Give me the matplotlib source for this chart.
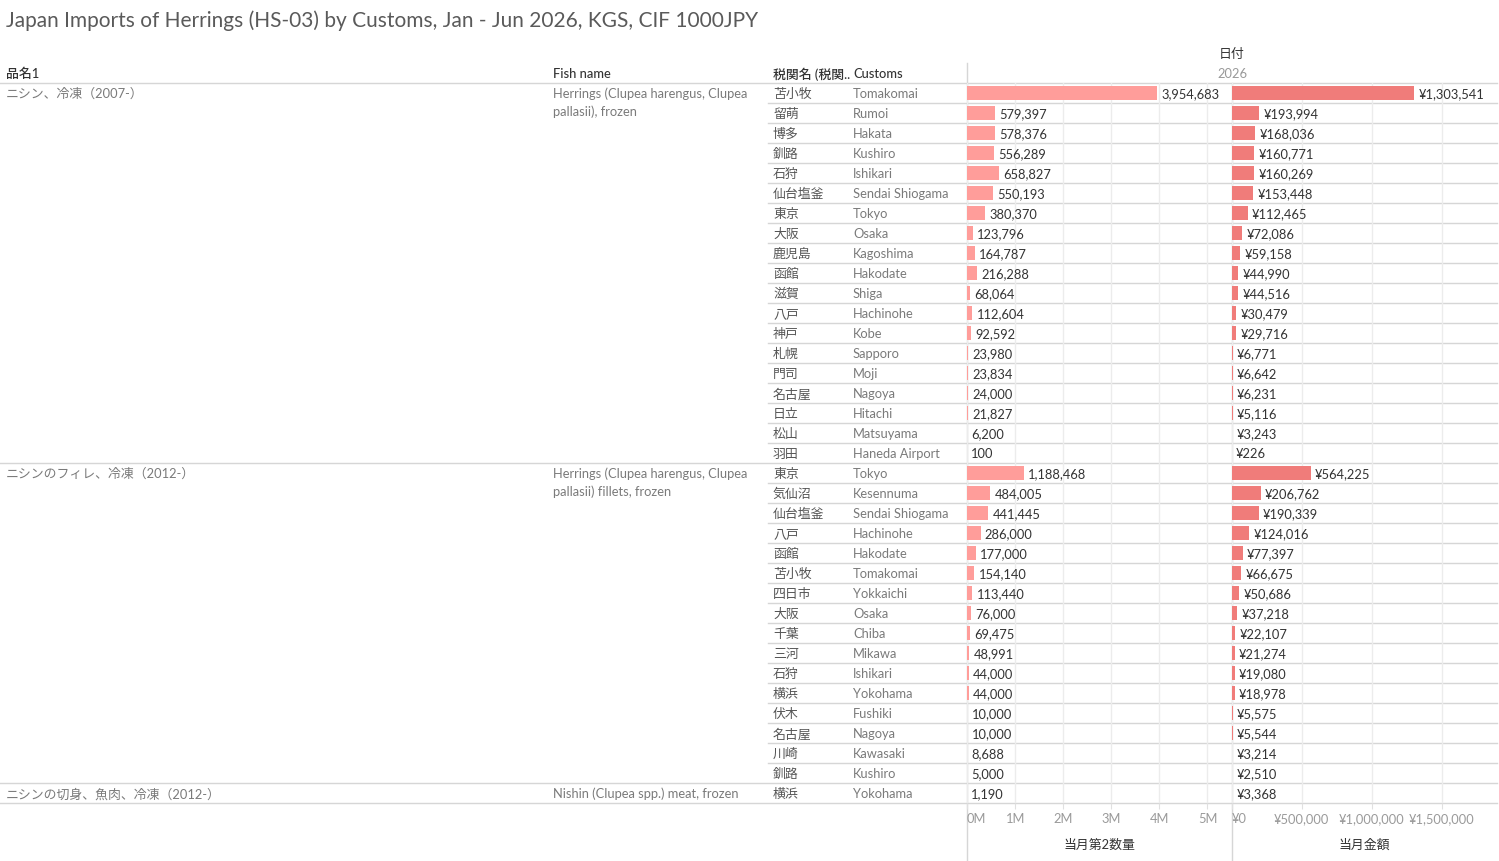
import matplotlib.pyplot as plt

plt.rcParams['font.family'] = ['Lato', 'Noto Sans CJK JP', 'DejaVu Sans']

W, H = 1499, 861

# --- data ---
products = ['ニシン、冷凍（2007-）', 'ニシンのフィレ、冷凍（2012-）', 'ニシンの切身、魚肉、冷凍（2012-）']
fish_names = ['Herrings (Clupea harengus, Clupea\npallasii), frozen',
              'Herrings (Clupea harengus, Clupea\npallasii) fillets, frozen',
              'Nishin (Clupea spp.) meat, frozen']

customs_jp_1 = ['苫小牧', '留萌', '博多', '釧路', '石狩', '仙台塩釜', '東京', '大阪', '鹿児島', '函館',
                '滋賀', '八戸', '神戸', '札幌', '門司', '名古屋', '日立', '松山', '羽田']
customs_en_1 = ['Tomakomai', 'Rumoi', 'Hakata', 'Kushiro', 'Ishikari', 'Sendai Shiogama', 'Tokyo', 'Osaka',
                'Kagoshima', 'Hakodate', 'Shiga', 'Hachinohe', 'Kobe', 'Sapporo', 'Moji', 'Nagoya', 'Hitachi',
                'Matsuyama', 'Haneda Airport']
qty_1 = [3954683, 579397, 578376, 556289, 658827, 550193, 380370, 123796, 164787, 216288,
         68064, 112604, 92592, 23980, 23834, 24000, 21827, 6200, 100]
amount_1 = [1303541, 193994, 168036, 160771, 160269, 153448, 112465, 72086, 59158, 44990,
            44516, 30479, 29716, 6771, 6642, 6231, 5116, 3243, 226]

customs_jp_2 = ['東京', '気仙沼', '仙台塩釜', '八戸', '函館', '苫小牧', '四日市', '大阪', '千葉', '三河',
                '石狩', '横浜', '伏木', '名古屋', '川崎', '釧路']
customs_en_2 = ['Tokyo', 'Kesennuma', 'Sendai Shiogama', 'Hachinohe', 'Hakodate', 'Tomakomai', 'Yokkaichi',
                'Osaka', 'Chiba', 'Mikawa', 'Ishikari', 'Yokohama', 'Fushiki', 'Nagoya', 'Kawasaki', 'Kushiro']
qty_2 = [1188468, 484005, 441445, 286000, 177000, 154140, 113440, 76000, 69475, 48991,
         44000, 44000, 10000, 10000, 8688, 5000]
amount_2 = [564225, 206762, 190339, 124016, 77397, 66675, 50686, 37218, 22107, 21274,
            19080, 18978, 5575, 5544, 3214, 2510]

customs_jp_3 = ['横浜']
customs_en_3 = ['Yokohama']
qty_3 = [1190]
amount_3 = [3368]

qty_ticks = [0, 1e6, 2e6, 3e6, 4e6, 5e6]
qty_tick_labels = ['0M', '1M', '2M', '3M', '4M', '5M']
amt_ticks = [0, 5e5, 1e6, 1.5e6]
amt_tick_labels = ['¥0', '¥500,000', '¥1,000,000', '¥1,500,000']

groups = [(customs_jp_1, customs_en_1, qty_1, amount_1),
          (customs_jp_2, customs_en_2, qty_2, amount_2),
          (customs_jp_3, customs_en_3, qty_3, amount_3)]

jp = sum([g[0] for g in groups], [])
en = sum([g[1] for g in groups], [])
qty = sum([g[2] for g in groups], [])
amt = sum([g[3] for g in groups], [])
n = len(qty)

# --- layout (pixels) ---
TOP = 83
ROW = 20
BOTTOM = TOP + ROW * n
X_L, X_M, X_R = 967, 1232, 1497
LINE = '#d6d6d6'
DARK = '#333333'
GRAY_JP = '#555555'
GRAY = '#7a7a7a'
FS = 9.3
DY = 1  # small nudge so text sits like the original

fig = plt.figure(figsize=(W / 100, H / 100), dpi=100)
bg = fig.add_axes([0, 0, 1, 1])
bg.set_xlim(0, W)
bg.set_ylim(H, 0)
bg.axis('off')

bg.text(6, 21, 'Japan Imports of Herrings (HS-03) by Customs, Jan - Jun 2026, KGS, CIF 1000JPY',
        fontsize=15, color='#5a5a5a', va='center')

# headers
hdr = dict(fontsize=FS, color=DARK, va='center', fontweight='medium')
bg.text(6, 73 + DY, '品名1', **hdr)
bg.text(553, 73 + DY, 'Fish name', **hdr)
bg.text(773, 73 + DY, '税関名 (税関..', **hdr)
bg.text(853, 73 + DY, 'Customs', **hdr)
bg.text(X_M, 53 + DY, '日付', fontsize=FS, color=DARK, va='center', ha='center')
bg.text(X_M, 73 + DY, '2026', fontsize=FS, color='#999999', va='center', ha='center')

# grid lines of the table
bg.plot([0, X_R], [TOP, TOP], color=LINE, lw=1)
bg.plot([X_L, X_L], [63, H], color=LINE, lw=1)
bg.plot([X_M, X_M], [TOP, H], color=LINE, lw=1)

start = 0
for (p, f, g) in zip(products, fish_names, groups):
    k = len(g[0])
    y0 = TOP + ROW * start + ROW / 2 + DY
    bg.text(6, y0, p, fontsize=FS, color=GRAY, va='center')
    for j, line in enumerate(f.split('\n')):
        bg.text(553, y0 + 18 * j, line, fontsize=FS, color=GRAY, va='center')
    for r in range(1, k):
        yy = TOP + ROW * (start + r)
        bg.plot([768, X_R], [yy, yy], color=LINE, lw=1)
    start += k
    yy = TOP + ROW * start
    bg.plot([0, X_R], [yy, yy], color=LINE, lw=1)

for i in range(n):
    y = TOP + ROW * i + ROW / 2 + DY
    bg.text(773, y, jp[i], fontsize=FS, color=GRAY_JP, va='center')
    bg.text(853, y, en[i], fontsize=FS, color=GRAY, va='center')

# --- bar panels ---
def panel(x0, vals, xmax, color, ticks, labels, fmt, title):
    ax = fig.add_axes([x0 / W, 1 - BOTTOM / H, (X_M - X_L) / W, (BOTTOM - TOP) / H])
    ax.patch.set_alpha(0)
    ax.barh(range(n), vals, height=0.7, color=color, zorder=2)
    ax.set_xlim(0, xmax)
    ax.set_ylim(n - 0.5, -0.5)
    ax.set_yticks([])
    for s in ax.spines.values():
        s.set_visible(False)
    ax.set_xticks(ticks)
    ax.set_xticklabels(labels)
    ax.tick_params(axis='x', length=4, color='#e0e0e0', labelsize=FS, labelcolor='#9a9a9a', pad=3.5)
    ax.get_xticklabels()[0].set_horizontalalignment('left')
    ax.xaxis.grid(True, color='#ececec', lw=1, zorder=0)
    ax.set_axisbelow(True)
    for i, v in enumerate(vals):
        ax.annotate(fmt(v), (v, i), xytext=(3, -0.7), textcoords='offset points',
                    va='center', fontsize=FS, color=DARK, zorder=3)
    bg.text(x0 + (X_M - X_L) / 2, 844 + DY, title, fontsize=FS, color=DARK, ha='center', va='center')
    return ax

panel(X_L, qty, 5.51e6, '#ff9d9a', qty_ticks, qty_tick_labels, lambda v: f'{v:,}', '当月第2数量')
panel(X_M, amt, 1.896e6, '#f07c7a', amt_ticks, amt_tick_labels, lambda v: f'¥{v:,}', '当月金額')

fig.savefig('out.png', dpi=100)
